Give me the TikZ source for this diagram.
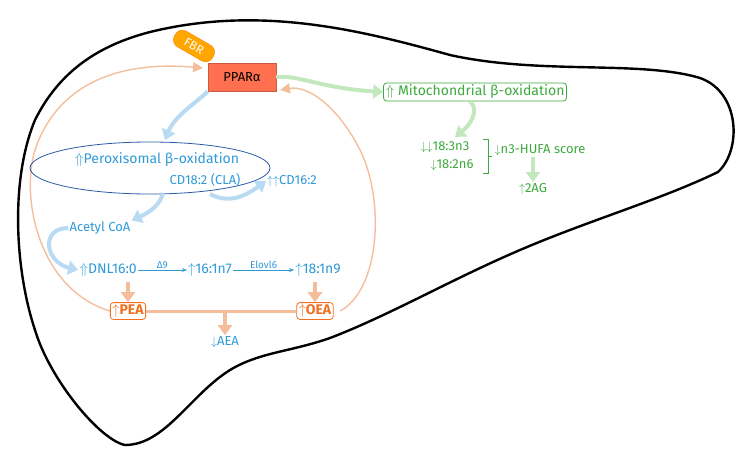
\documentclass[tikz,border=0pt]{standalone}
\usepackage{fontspec}
\setmainfont{Fira Sans}
\usetikzlibrary{arrows.meta,shapes.misc,shapes.geometric,calc}
\definecolor{bl}{HTML}{2E9AD6}
\definecolor{bll}{HTML}{B8DAF3}
\definecolor{dbl}{HTML}{2B5BA8}
\definecolor{gr}{HTML}{3DAA3D}
\definecolor{grl}{HTML}{C4E8BE}
\definecolor{org}{HTML}{F07020}
\definecolor{orl}{HTML}{F4BE9C}
\definecolor{red}{HTML}{FF7050}
\begin{document}
\begin{tikzpicture}[x=1pt,y=-1pt,font=\fontsize{13}{15}\selectfont,
  fat/.style={draw=#1,line width=4pt,-{Triangle[length=10pt,width=14pt]}},
  txt/.style={inner sep=1pt},
  box/.style={draw=#1,rounded corners=3pt,fill=white,inner sep=2pt,line width=0.8pt}]
\useasboundingbox (0,0) rectangle (738,450);
% liver outline
\draw[line width=2.4pt,line join=round] (150,32) .. controls (260,5) and (360,30) .. (450,55)
  .. controls (540,75) and (640,60) .. (700,78) .. controls (740,92) and (742,150) .. (718,172)
  .. controls (660,200) and (590,220) .. (520,250) .. controls (450,280) and (390,315) .. (330,338)
  .. controls (290,352) and (260,352) .. (230,370) .. controls (190,395) and (165,445) .. (125,445)
  .. controls (100,440) and (50,380) .. (35,330) .. controls (15,270) and (10,180) .. (35,120)
  .. controls (60,70) and (100,45) .. (150,32) -- cycle;
% orange loop
\draw[orl,line width=1.4pt,-{Triangle[length=10pt,width=10pt]}] (110,311) .. controls (40,290) and (20,200) .. (35,150)
  .. controls (55,90) and (110,60) .. (203,68);
\draw[orl,line width=1.4pt,-{Triangle[length=10pt,width=10pt]}] (340,311) .. controls (380,290) and (385,200) .. (360,150)
  .. controls (340,110) and (310,85) .. (280,90);
% nodes
\node[fill=orange!70!yellow,draw=orange,text=white,rounded corners=8pt,rotate=-30,minimum width=44pt,minimum height=18pt,inner sep=1pt,font=\fontsize{12}{14}\selectfont] (fbr) at (194,46) {FBR};
\node[fill=red,draw=red!80!black,minimum width=68pt,minimum height=28pt,inner sep=0pt] (ppar) at (242,77) {PPARα};
\node[box=gr,text=gr,font=\fontsize{14}{16}\selectfont] (mito) at (475,92) {$\Uparrow$ Mitochondrial β-oxidation};
\node[draw=dbl,ellipse,minimum width=240pt,minimum height=52pt,line width=0.8pt] (perox) at (150,168) {};
\node[text=bl,font=\fontsize{14}{16}\selectfont] (pt) at (157,160) {$\Uparrow$Peroxisomal β-oxidation};
\node[text=bl] (cla) at (205,180) {CD18:2 (CLA)};
\node[text=bl,txt] (cd16) at (292,181) {$\uparrow\uparrow$CD16:2};
\node[text=bl,txt] (acoa) at (100,228) {Acetyl CoA};
\node[text=bl,txt,font=\fontsize{14}{16}\selectfont] (dnl) at (108,270) {$\Uparrow$DNL16:0};
\node[text=bl,txt,font=\fontsize{14}{16}\selectfont] (c161) at (210,270) {$\uparrow$16:1n7};
\node[text=bl,txt,font=\fontsize{14}{16}\selectfont] (c181) at (318,270) {$\uparrow$18:1n9};
\node[box=org,text=org,font=\bfseries\fontsize{14}{16}\selectfont] (pea) at (128,311) {$\uparrow$PEA};
\node[box=org,text=org,font=\bfseries\fontsize{14}{16}\selectfont] (oea) at (315,311) {$\uparrow$OEA};
\node[text=bl,txt] (aea) at (225,342) {$\downarrow$AEA};
\coordinate (mid) at (225,313);
\node[text=gr,txt] (n3) at (445,147) {$\downarrow\downarrow$18:3n3};
\node[text=gr,txt] (n6) at (452,165) {$\downarrow$18:2n6};
\node[text=gr,txt] (hufa) at (540,150) {$\downarrow$n3-HUFA score};
\node[text=gr,txt] (ag) at (533,189) {$\uparrow$2AG};
% connectors
\draw[fat=grl] (ppar.east) .. controls (300,75) and (320,88) .. (mito.west);
\draw[fat=bll] (ppar.south west) .. controls (200,100) and (175,115) .. (165,140);
\draw[fat=bll] (163,193) .. controls (160,205) and (150,212) .. (acoa.north east);
\draw[fat=bll] (210,194) .. controls (225,202) and (240,200) .. (cd16.west);
\draw[fat=bll] (acoa.west) .. controls (40,228) and (45,262) .. (dnl.west);
\draw[fat=grl] (mito.south) ++(-5,0) .. controls (480,110) and (470,125) .. (455,137);
\draw[bl,-{Stealth[length=5pt]}] (dnl.east) -- node[above,font=\fontsize{10}{12}\selectfont,inner sep=1pt]{Δ9} (c161.west);
\draw[bl,-{Stealth[length=5pt]}] (c161.east) -- node[above,font=\fontsize{10}{12}\selectfont,inner sep=1pt]{Elovl6} (c181.west);
\draw[fat=orl] (128,282) -- (pea.north);
\draw[fat=orl] (315,282) -- (oea.north);
\draw[orl,line width=3pt] (pea.east) -- (oea.west);
\draw[fat=orl] (mid) -- (aea.north);
\draw[gr,line width=1pt] (483,139) -- (488,139) -- (488,173) -- (483,173) (488,156) -- (492,156);
\draw[fat=grl] (hufa.south -| ag) -- (ag.north);
\end{tikzpicture}
\end{document}
